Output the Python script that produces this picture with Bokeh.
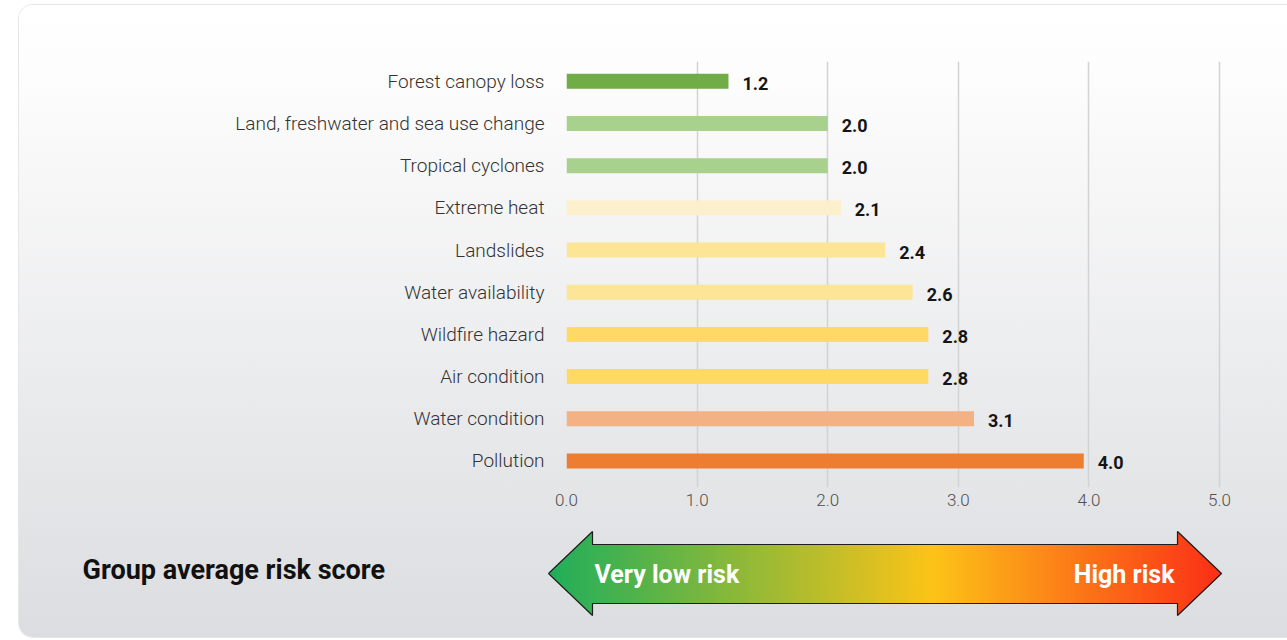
from bokeh.plotting import figure
from bokeh.layouts import column
from bokeh.models import Range1d, FixedTicker
from bokeh.core.properties import value
from bokeh.embed import file_html
from bokeh.resources import INLINE

# ---------------- data ----------------
categories = [
    "Forest canopy loss",
    "Land, freshwater and sea use change",
    "Tropical cyclones",
    "Extreme heat",
    "Landslides",
    "Water availability",
    "Wildfire hazard",
    "Air condition",
    "Water condition",
    "Pollution",
]
scores = [1.24, 2.0, 2.0, 2.1, 2.44, 2.65, 2.77, 2.77, 3.12, 3.96]
score_labels = ["1.2", "2.0", "2.0", "2.1", "2.4", "2.6", "2.8", "2.8", "3.1", "4.0"]
bar_colors = ["#70AD47", "#A9D18E", "#A9D18E", "#FCF0CC", "#FCE596",
              "#FCE596", "#FED966", "#FED966", "#F4B183", "#ED7D31"]
x_ticks = [0, 1, 2, 3, 4, 5]
x_tick_labels = ["0.0", "1.0", "2.0", "3.0", "4.0", "5.0"]
title_text = "Group average risk score"
low_text = "Very low risk"
high_text = "High risk"

FONT = "Roboto"

# ---------------- bar chart ----------------
idx = list(range(len(categories)))
p = figure(width=1268, height=515,
           x_range=Range1d(0, 5.52), y_range=Range1d(9.63, -0.47),
           output_backend="svg", toolbar_location=None,
           min_border_left=547, min_border_right=0,
           min_border_top=56, min_border_bottom=33)
p.outline_line_color = None
p.background_fill_alpha = 0
p.border_fill_alpha = 0
p.frame_align = False

p.hbar(y=idx, left=0, right=scores, height=0.356,
       fill_color=bar_colors, line_color=None)
p.text(x=scores, y=idx, text=score_labels, x_offset=14, y_offset=2,
       text_baseline="middle", text_align="left",
       text_font=value(FONT), text_font_style="bold",
       text_font_size="18px", text_color="#151515")

yax = p.yaxis[0]
yax.ticker = FixedTicker(ticks=idx)
yax.major_label_overrides = {i: c for i, c in zip(idx, categories)}
yax.axis_line_color = None
yax.major_tick_line_color = None
yax.minor_tick_line_color = None
yax.major_tick_out = 0
yax.major_label_standoff = 22
yax.major_label_text_font = "Roboto Light, Roboto"
yax.major_label_text_font_size = "19px"
yax.major_label_text_color = "#333333"

xax = p.xaxis[0]
xax.ticker = FixedTicker(ticks=x_ticks)
xax.major_label_overrides = {t: l for t, l in zip(x_ticks, x_tick_labels)}
xax.axis_line_color = None
xax.major_tick_line_color = None
xax.minor_tick_line_color = None
xax.major_tick_out = 0
xax.major_label_standoff = 6
xax.major_label_text_font = "Roboto Light, Roboto"
xax.major_label_text_font_size = "17px"
xax.major_label_text_color = "#505050"

p.ygrid.visible = False
p.xgrid.grid_line_color = "#d3d3d5"
p.xgrid.grid_line_width = 1.5

# ---------------- legend arrow ----------------
q = figure(width=1268, height=117,
           x_range=Range1d(19, 1287), y_range=Range1d(637, 520),
           output_backend="svg", toolbar_location=None,
           x_axis_type=None, y_axis_type=None,
           min_border=0, min_border_left=0, min_border_right=0,
           min_border_top=0, min_border_bottom=0)
q.outline_line_color = None
q.background_fill_alpha = 0
q.border_fill_alpha = 0
q.grid.visible = False
q.frame_align = False

x0, xh1, xh2, x1 = 548, 592, 1177, 1221
yc, head, body_top, body_bot = 573, 42, 544, 603
stops = [(0.0, (10, 168, 76)), (0.57, (255, 192, 0)), (1.0, (255, 26, 0))]


def grad(t):
    for (t0, c0), (t1, c1) in zip(stops[:-1], stops[1:]):
        if t <= t1:
            f = (t - t0) / (t1 - t0)
            return "#%02x%02x%02x" % tuple(int(round(a + (b - a) * f)) for a, b in zip(c0, c1))
    return "#%02x%02x%02x" % stops[-1][1]


lefts, rights, tops, bots, cols = [], [], [], [], []
x = x0
while x < x1:
    xm = x + 0.5
    if xm < xh1:
        h = (xm - x0) / (xh1 - x0) * head
        t_, b_ = yc - h, yc + h
    elif xm > xh2:
        h = (x1 - xm) / (x1 - xh2) * head
        t_, b_ = yc - h, yc + h
    else:
        t_, b_ = body_top, body_bot
    lefts.append(x)
    rights.append(x + 1.3)
    tops.append(t_)
    bots.append(b_)
    cols.append(grad((xm - x0) / (x1 - x0)))
    x += 1
q.quad(left=lefts, right=rights, top=tops, bottom=bots,
       fill_color=cols, line_color=None)

ax = [x0, xh1, xh1, xh2, xh2, x1, xh2, xh2, xh1, xh1, x0]
ay = [yc, yc - head, body_top, body_top, yc - head, yc, yc + head, body_bot, body_bot, yc + head, yc]
q.line(ax, ay, line_color="#1e1e1e", line_width=1.2)

q.text(x=[594], y=[574], text=[low_text], text_align="left", text_baseline="middle",
       text_font=value(FONT), text_font_style="bold", text_font_size="25px",
       text_color="white")
q.text(x=[1174], y=[574], text=[high_text], text_align="right", text_baseline="middle",
       text_font=value(FONT), text_font_style="bold", text_font_size="25px",
       text_color="white")
q.text(x=[82], y=[569], text=[title_text], text_align="left", text_baseline="middle",
       text_font=value(FONT), text_font_style="bold", text_font_size="27px",
       text_color="#111111")

layout = column(p, q, spacing=0, styles={
    "margin-left": "19px",
    "margin-top": "5px",
    "background": "linear-gradient(to bottom, #ffffff 0%, #fdfdfd 10%, #dcdde0 100%)",
    "border-top-left-radius": "14px",
    "border-bottom-left-radius": "14px",
    "box-shadow": "0 0 0 1px #e6e6e6",
})

open("out.html", "w").write(file_html(layout, INLINE))
